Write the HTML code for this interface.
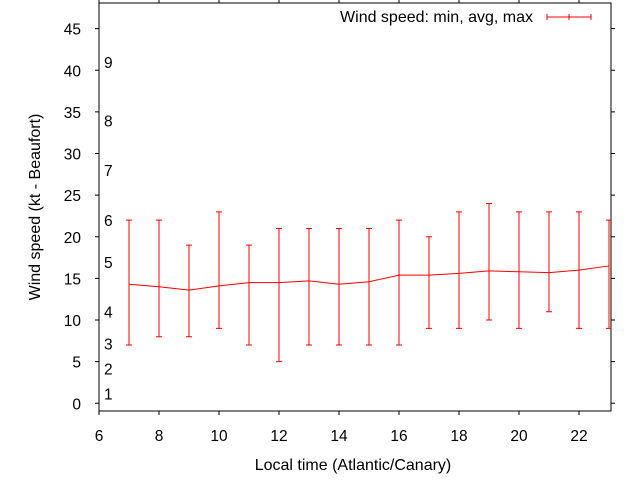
<!DOCTYPE html>
<html><head><meta charset="utf-8"><style>
body{margin:0;background:#fff}
svg{display:block;font-family:"Liberation Sans",sans-serif;font-size:15.5px}
</style></head><body>
<svg id="chart" width="640" height="480" viewBox="0 0 640 480" xmlns="http://www.w3.org/2000/svg">
<rect width="640" height="480" fill="#fff"/>
<g id="axes"></g>
<g id="marks"></g>
<text x="353" y="470" text-anchor="middle" font-size="16">Local time (Atlantic/Canary)</text>
<text transform="translate(40,207) rotate(-90)" text-anchor="middle" font-size="16">Wind speed (kt - Beaufort)</text>
<g>
<text x="533" y="22" text-anchor="end" font-size="16">Wind speed: min, avg, max</text>
<g stroke="#f00" stroke-width="1">
<line x1="547" y1="17" x2="591" y2="17"/><line x1="547" y1="14" x2="547" y2="20"/><line x1="569" y1="14" x2="569" y2="20"/><line x1="591" y1="14" x2="591" y2="20"/>
</g></g>
</svg>
<script>
const hours=[7,8,9,10,11,12,13,14,15,16,17,18,19,20,21,22,23];
const avgVals=[14.3,14.0,13.6,14.1,14.5,14.5,14.7,14.3,14.6,15.4,15.4,15.6,15.9,15.8,15.7,16.0,16.5];
const minVals=[7,8,8,9,7,5,7,7,7,7,9,9,10,9,11,9,9];
const maxVals=[22,22,19,23,19,21,21,21,21,22,20,23,24,23,23,23,22];
const xTicks=[6,8,10,12,14,16,18,20,22];
const yTicks=[0,5,10,15,20,25,30,35,40,45];
const beaufortLabels=["1","2","3","4","5","6","7","8","9"];
const beaufortKt=[1.2,4.2,7.2,11,17,22,28,34,41];
const L=99,R=611,T=3,B=411;
const X=v=>L+(v-6)*30;
const Y=v=>403.3-v*8.325;
const NS="http://www.w3.org/2000/svg";
function mk(tag,parent,attrs){const e=document.createElementNS(NS,tag);for(const k in attrs)e.setAttribute(k,attrs[k]);parent.appendChild(e);return e;}
const ax=document.getElementById('axes'),mg=document.getElementById('marks');
const frame=mk('rect',ax,{x:L,y:T,width:R-L,height:B-T,fill:'none',stroke:'#000'});


xTicks.forEach(v=>{
 const x=X(v);
 const t=mk('path',ax,{d:`M${x},${B}v4M${x},${T}v-4`,stroke:'#000'});
 
 
 const l=mk('text',ax,{x:x,y:441,'text-anchor':'middle'});l.textContent=v;
 
 
});
yTicks.forEach(v=>{
 const y=Y(v);
 const t=mk('path',ax,{d:`M${L},${y}h-4M${R},${y}h4`,stroke:'#000'});
 
 
 const l=mk('text',ax,{x:81,y:y+6,'text-anchor':'end'});l.textContent=v;
 
 
});
beaufortLabels.forEach((s,i)=>{
 const l=mk('text',ax,{x:104,y:Y(beaufortKt[i])+6});l.textContent=s;
 
 
});
const clip=mk('clipPath',mg,{id:'pc'});mk('rect',clip,{x:L,y:T,width:R-L,height:B-T});
const g=mk('g',mg,{'clip-path':'url(#pc)',stroke:'#f00',fill:'none'});
hours.forEach((h,i)=>{
 const x=X(h),y1=Y(minVals[i]),y2=Y(maxVals[i]);
 const e=mk('path',g,{d:`M${x},${y1}V${y2}M${x-3},${y1}h6M${x-3},${y2}h6`});
 
 
});
const line=mk('polyline',g,{points:hours.map((h,i)=>X(h)+','+Y(avgVals[i])).join(' ')});


</script>
</body></html>
